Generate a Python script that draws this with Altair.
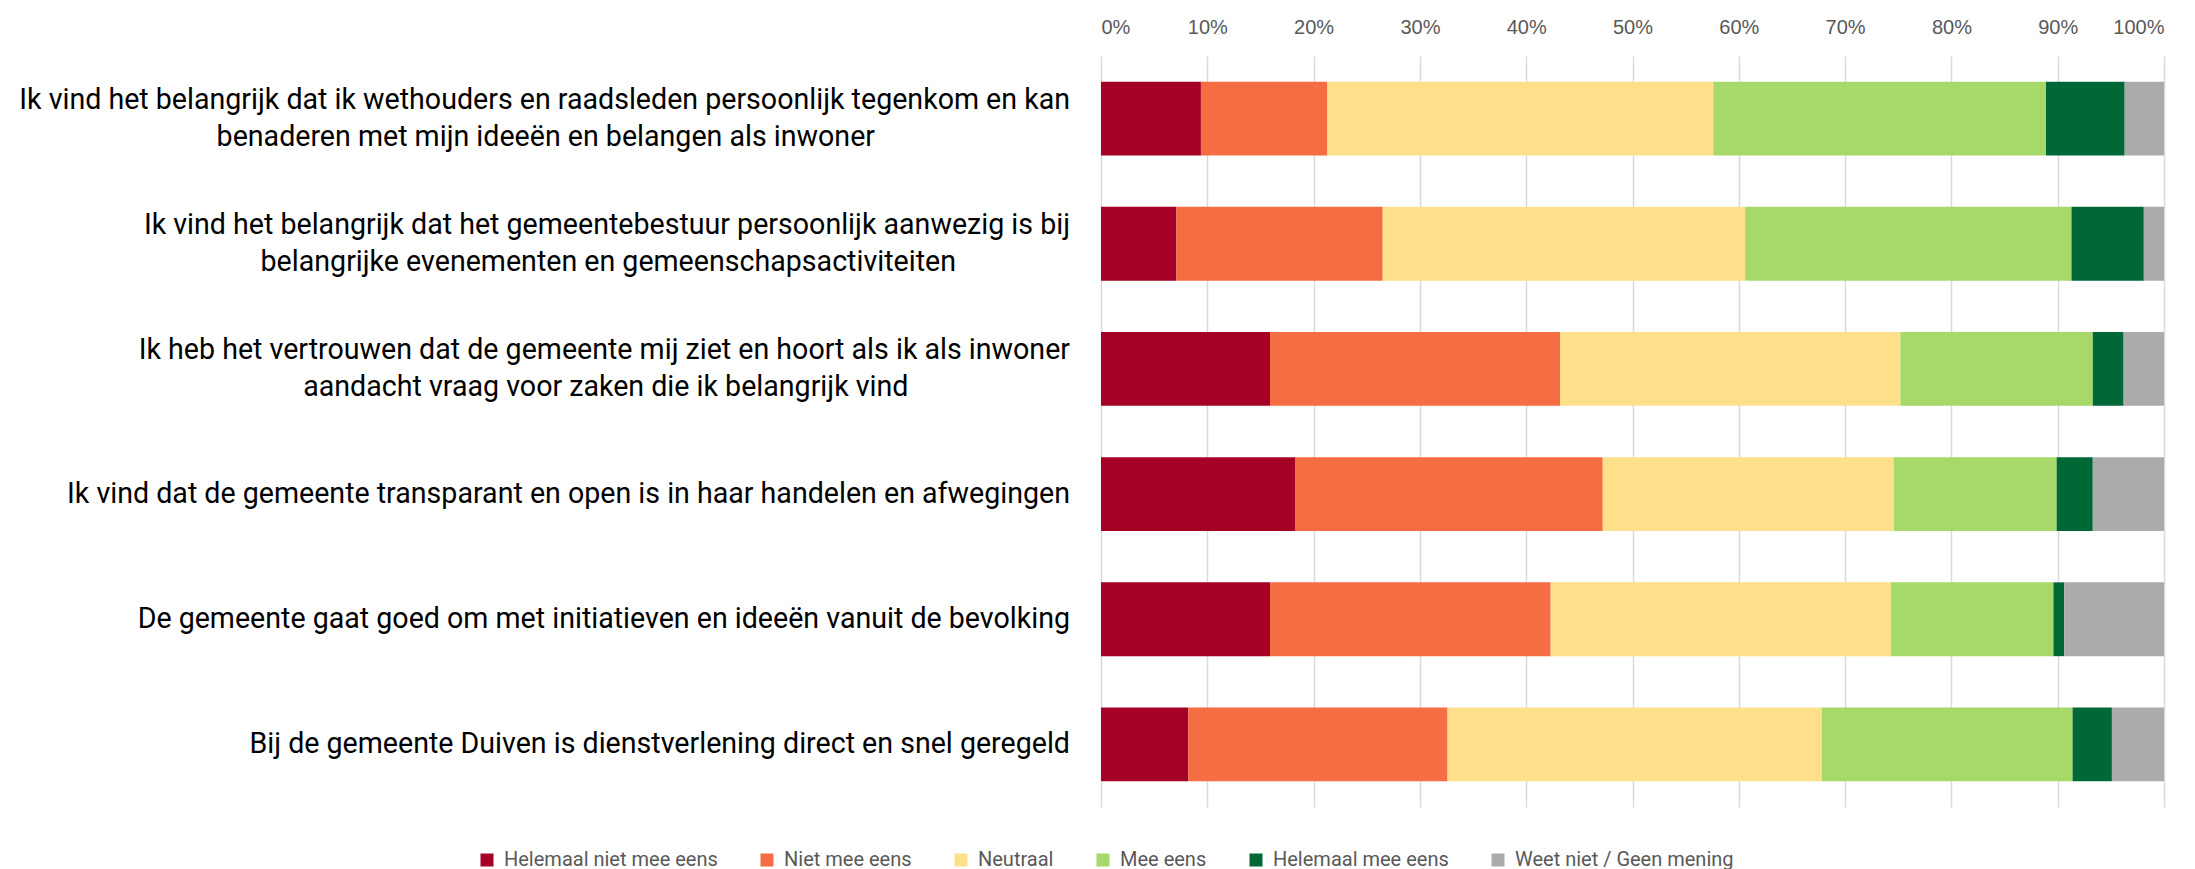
import altair as alt
import pandas as pd

# ---- data -------------------------------------------------------------
statements = [
    ["Ik vind het belangrijk dat ik wethouders en raadsleden persoonlijk tegenkom en kan",
     "benaderen met mijn ideeën en belangen als inwoner"],
    ["Ik vind het belangrijk dat het gemeentebestuur persoonlijk aanwezig is bij",
     "belangrijke evenementen en gemeenschapsactiviteiten"],
    ["Ik heb het vertrouwen dat de gemeente mij ziet en hoort als ik als inwoner",
     "aandacht vraag voor zaken die ik belangrijk vind"],
    ["Ik vind dat de gemeente transparant en open is in haar handelen en afwegingen"],
    ["De gemeente gaat goed om met initiatieven en ideeën vanuit de bevolking"],
    ["Bij de gemeente Duiven is dienstverlening direct en snel geregeld"],
]

responses = ["Helemaal niet mee eens", "Niet mee eens", "Neutraal",
             "Mee eens", "Helemaal mee eens", "Weet niet / Geen mening"]
colors = ["#A50026", "#F46D43", "#FEE08B", "#A6D96A", "#006837", "#ABABAB"]

helemaal_niet_mee_eens = [9.4, 7.1, 15.9, 18.3, 15.9, 8.2]
niet_mee_eens = [11.9, 19.4, 27.3, 28.9, 26.4, 24.4]
neutraal = [36.3, 34.1, 32.0, 27.4, 32.0, 35.2]
mee_eens = [31.3, 30.7, 18.1, 15.3, 15.3, 23.6]
helemaal_mee_eens = [7.4, 6.8, 2.9, 3.4, 1.0, 3.7]
weet_niet = [3.7, 1.9, 3.8, 6.7, 9.4, 4.9]

series = [helemaal_niet_mee_eens, niet_mee_eens, neutraal,
          mee_eens, helemaal_mee_eens, weet_niet]

tick_values = [0, 0.1, 0.2, 0.3, 0.4, 0.5, 0.6, 0.7, 0.8, 0.9, 1.0]

# ---- approximate text width (Roboto advances, units per 2048 em) ------
LABEL_FS = 28.6
ADV = {" ": 507, "a": 1087, "b": 1122, "c": 1046, "d": 1126, "e": 1058, "ë": 1058,
       "f": 694, "g": 1122, "h": 1101, "i": 486, "j": 477, "k": 1014, "l": 486,
       "m": 1751, "n": 1103, "o": 1141, "p": 1122, "q": 1133, "r": 677, "s": 1031,
       "t": 654, "u": 1101, "v": 969, "w": 1502, "x": 991, "y": 946, "z": 991,
       "I": 557, "D": 1313, "B": 1275}


def text_w(s):
    return sum(ADV.get(c, 1100) for c in s) / 2048 * LABEL_FS * 1.02


keys = [s[0] for s in statements]

rows = []
for i, key in enumerate(keys):
    for j, resp in enumerate(responses):
        rows.append({"key": key, "response": resp, "idx": j, "value": series[j][i]})
df = pd.DataFrame(rows)

lab_rows = []
for s in statements:
    lab_rows.append({
        "key": s[0],
        "first": s[0],
        "second": s[1] if len(s) > 1 else "",
        "nlines": len(s),
        "hw": text_w(s[0]) / 2,
    })
lab_df = pd.DataFrame(lab_rows)

y_enc = alt.Y("key:N", sort=keys,
              scale=alt.Scale(paddingInner=0.41, paddingOuter=0.205),
              axis=None)

bars = alt.Chart(df).mark_bar().encode(
    y=y_enc,
    x=alt.X(
        "value:Q",
        stack="normalize",
        scale=alt.Scale(domain=[0, 1]),
        axis=alt.Axis(
            title=None,
            orient="top",
            format=".0%",
            values=tick_values,
            grid=True,
            gridColor="#D9D9D9",
            gridWidth=1.5,
            domain=False,
            ticks=False,
            labelFont="Liberation Sans",
            labelFontSize=20,
            labelColor="#595959",
            labelPadding=19,
        ),
    ),
    color=alt.Color(
        "response:N",
        sort=responses,
        scale=alt.Scale(domain=responses, range=colors),
        legend=alt.Legend(
            title=None,
            orient="none",
            legendX=-624,
            legendY=794,
            direction="horizontal",
            symbolType="square",
            symbolSize=169,
            symbolStrokeWidth=0,
            labelFont="Roboto",
            labelFontSize=20,
            labelColor="#595959",
            labelOffset=7,
            columnPadding=39,
            padding=0,
            labelLimit=0,
        ),
    ),
    order=alt.Order("idx:Q"),
)

first_line = alt.Chart(lab_df).mark_text(
    align="right", baseline="middle", font="Roboto", fontSize=LABEL_FS,
    color="#000000",
    dy=alt.expr("datum.nlines == 2 ? -18.5 : 0"),
).encode(
    y=y_enc,
    x=alt.value(-31),
    text="first:N",
)

second_line = alt.Chart(lab_df).transform_filter("datum.nlines == 2").mark_text(
    align="center", baseline="middle", font="Roboto", fontSize=LABEL_FS,
    color="#000000",
    dy=18.5,
    dx=alt.expr("-datum.hw"),
).encode(
    y=y_enc,
    x=alt.value(-31),
    text="second:N",
)

chart = alt.layer(bars, first_line, second_line).properties(
    width=1063,
    height=751,
    autosize=alt.AutoSizeParams(type="none"),
    padding={"left": 1093, "top": 48, "right": 20, "bottom": 72},
    background="white",
).configure_view(stroke=None)

chart.save("out.html", embed_options={"renderer": "svg", "actions": False})
